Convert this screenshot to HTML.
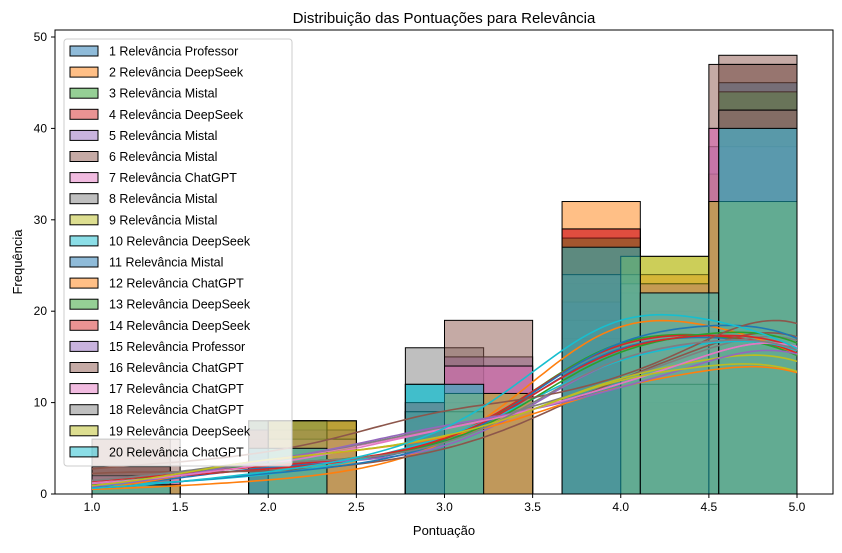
<!DOCTYPE html>
<html><head><meta charset="utf-8"><style>
body{margin:0;background:#fff;}
svg text{font-family:"Liberation Sans","DejaVu Sans",sans-serif;}
</style></head><body>
<svg id="chart" width="842" height="548" xmlns="http://www.w3.org/2000/svg">
<rect width="842" height="548" fill="#fff"/>
<g id="bars"></g><g id="kdes"></g>
<rect x="55" y="30" width="778" height="464" fill="none" stroke="#000" stroke-width="1"/>
<g id="axes"></g>
<text x="444" y="23" text-anchor="middle" font-size="15">Distribuição das Pontuações para Relevância</text>
<text x="444" y="535" text-anchor="middle" font-size="13">Pontuação</text>
<text transform="translate(22,262) rotate(-90)" text-anchor="middle" font-size="13">Frequência</text>
<g id="legend"></g>
</svg>
<script>
const seriesNames=["1 Relevância Professor","2 Relevância DeepSeek","3 Relevância Mistal","4 Relevância DeepSeek","5 Relevância Mistal","6 Relevância Mistal","7 Relevância ChatGPT","8 Relevância Mistal","9 Relevância Mistal","10 Relevância DeepSeek","11 Relevância Mistal","12 Relevância ChatGPT","13 Relevância DeepSeek","14 Relevância DeepSeek","15 Relevância Professor","16 Relevância ChatGPT","17 Relevância ChatGPT","18 Relevância ChatGPT","19 Relevância DeepSeek","20 Relevância ChatGPT"];
const binTypes=["A","A","A","A","A","A","B","A","B","A","A","B","A","A","B","B","B","A","B","A"];
const binEdgesA=[1,1.444,1.889,2.333,2.778,3.222,3.667,4.111,4.556,5];
const binEdgesB=[1,1.5,2,2.5,3,3.5,4,4.5,5];
const counts=[
[1,0,7,0,9,0,23,17,40],
[1,0,3,0,8,0,32,16,38],
[2,0,8,0,9,0,28,14,39],
[3,0,6,0,10,0,29,12,40],
[1,0,8,0,8,0,21,15,42],
[6,0,5,0,9,0,19,9,48],
[2,0,7,0,14,0,23,40],
[3,0,8,0,16,0,17,10,47],
[1,0,8,0,11,0,26,35],
[2,0,4,0,12,0,19,16,42],
[1,0,5,0,9,0,21,20,45],
[0,0,8,0,11,0,24,32],
[2,0,8,0,9,0,28,10,44],
[3,0,7,0,10,0,29,10,42],
[1,0,7,0,15,0,22,38],
[6,0,8,0,19,0,23,47],
[2,0,6,0,14,0,23,40],
[3,0,8,0,9,0,24,12,42],
[1,0,8,0,11,0,26,32],
[1,0,5,0,12,0,27,22,40]];
const xTicks=[1.0,1.5,2.0,2.5,3.0,3.5,4.0,4.5,5.0];
const yTicks=[0,10,20,30,40,50];
const palette=["#1f77b4","#ff7f0e","#2ca02c","#d62728","#9467bd","#8c564b","#e377c2","#7f7f7f","#bcbd22","#17becf"];
const NS="http://www.w3.org/2000/svg";
const X=v=>92+(v-1)*176.25;
const Y=c=>494-c*9.14;
function mk(t,a,p){const e=document.createElementNS(NS,t);for(const k in a)e.setAttribute(k,a[k]);p.appendChild(e);return e;}
const bars=document.getElementById('bars'),kdes=document.getElementById('kdes'),axes=document.getElementById('axes'),legend=document.getElementById('legend');
counts.forEach((cs,i)=>{
  const edges=binTypes[i]==="A"?binEdgesA:binEdgesB;
  const col=palette[i%10];
  cs.forEach((c,j)=>{
    if(c<=0)return;
    const r=mk('rect',{x:X(edges[j]),y:Y(c),width:X(edges[j+1])-X(edges[j]),height:Y(0)-Y(c),fill:col,'fill-opacity':0.5,stroke:'#000','stroke-width':1},bars);
    
    
  });
});
counts.forEach((cs,i)=>{
  const edges=binTypes[i]==="A"?binEdgesA:binEdgesB;
  const bw=edges[1]-edges[0];
  let n=0;cs.forEach(c=>{n+=c;});
  const h=0.55;
  let d='';
  for(let k=0;k<=120;k++){
    const x=1+4*k/120;let dens=0;
    cs.forEach((c,j)=>{const xc=Math.round((edges[j]+edges[j+1])/2);const z=(x-xc)/h;dens+=c*Math.exp(-0.5*z*z);});
    dens=dens/(n*h*Math.sqrt(2*Math.PI));
    const yv=dens*n*bw;
    d+=(k?'L':'M')+X(x).toFixed(1)+','+Y(yv).toFixed(1);
  }
  const p=mk('path',{d:d,fill:'none',stroke:palette[i%10],'stroke-width':1.6},kdes);
  
  
});
xTicks.forEach(t=>{
  const l=mk('line',{x1:X(t),x2:X(t),y1:494,y2:498,stroke:'#000'},axes);
  
  
  const tx=mk('text',{x:X(t),y:511,'text-anchor':'middle','font-size':12},axes);
  tx.textContent=t.toFixed(1);
  
  
});
yTicks.forEach(t=>{
  const l=mk('line',{x1:51,x2:55,y1:Y(t),y2:Y(t),stroke:'#000'},axes);
  
  
  const tx=mk('text',{x:47,y:Y(t)+4,'text-anchor':'end','font-size':12},axes);
  tx.textContent=t;
  
  
});
const box=mk('rect',{x:64,y:39,width:228,height:427,rx:3,fill:'#fff','fill-opacity':0.8,stroke:'#ccc'},legend);


seriesNames.forEach((s,i)=>{
  const cy=51+i*21.1;
  const g=mk('g',{},legend);
  
  
  mk('rect',{x:70,y:cy-5,width:28,height:10,fill:palette[i%10],'fill-opacity':0.5,stroke:'#000','stroke-width':1},g);
  const t=mk('text',{x:109,y:cy+4.5,'font-size':12.5},g);
  t.textContent=s;
});
</script>
</body></html>
